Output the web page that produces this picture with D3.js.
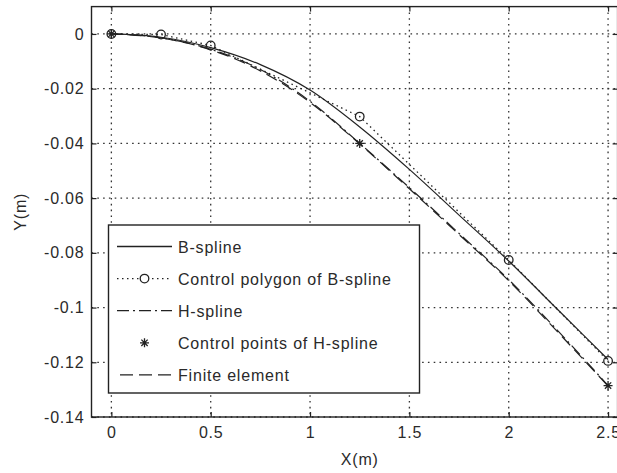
<!DOCTYPE html>
<html><head><meta charset="utf-8">
<script src="https://d3js.org/d3.v7.min.js"></script>
<style>body{margin:0;background:#fff}svg{display:block}text{font-family:"Liberation Sans",Arial,sans-serif;fill:#2a2a2a}</style>
</head><body><svg id="c" width="617" height="473"></svg>
<script>
// ---- data ----
const curveX = [0, 0.25, 0.5, 0.75, 1.0, 1.25, 1.5, 1.75, 2.0, 2.25, 2.5];
const bSpline = [0, -0.0012, -0.0050, -0.0112, -0.0205, -0.0340, -0.0495, -0.0662, -0.0830, -0.1010, -0.1190];
const hSpline = [0, -0.0014, -0.0056, -0.0130, -0.0246, -0.0400, -0.0562, -0.0729, -0.0898, -0.1087, -0.1285];
const finiteElement = [0, -0.0015, -0.0058, -0.0135, -0.0250, -0.0402, -0.0566, -0.0733, -0.0902, -0.1092, -0.1287];
const bCtrlX = [0, 0.25, 0.5, 1.25, 2.0, 2.5];
const bCtrlY = [0, -0.0002, -0.0042, -0.0302, -0.0826, -0.1195];
const hCtrlX = [0, 1.25, 2.5];
const hCtrlY = [0, -0.0400, -0.1285];
const xTicks = [0, 0.5, 1, 1.5, 2, 2.5];
const yTicks = [0, -0.02, -0.04, -0.06, -0.08, -0.1, -0.12, -0.14];
const legendLabels = ["B-spline", "Control polygon of B-spline", "H-spline", "Control points of H-spline", "Finite element"];

// ---- layout ----
const svg = d3.select("#c");
const L = 91.5, R = 617.6, T = 6.6, B = 417;
const x = d3.scaleLinear().domain([-0.1, 2.548]).range([L, R]);
const y = d3.scaleLinear().domain([-0.14, 0.01]).range([B, T]);
const ink = "#222";
const fmt = d => String(+d.toFixed(4));

// grid
const g = svg.append("g");
g.selectAll("line.gx").data(xTicks).join("line")
  .attr("x1", d => x(d)).attr("x2", d => x(d)).attr("y1", T).attr("y2", B)
  .attr("stroke", "#333").attr("stroke-width", 1.3).attr("stroke-dasharray", "1.6,4.2");
g.selectAll("line.gy").data(yTicks).join("line")
  .attr("y1", d => y(d)).attr("y2", d => y(d)).attr("x1", L).attr("x2", R)
  .attr("stroke", "#333").attr("stroke-width", 1.3).attr("stroke-dasharray", "1.6,4.2");

// axes (MATLAB style, ticks inward on all sides)
const axB = d3.axisBottom(x).tickValues(xTicks).tickSize(-5).tickPadding(10).tickFormat(fmt);
const axT = d3.axisTop(x).tickValues(xTicks).tickSize(-5).tickFormat("");
const axLft = d3.axisLeft(y).tickValues(yTicks).tickSize(-5).tickPadding(7).tickFormat(fmt);
const axRgt = d3.axisRight(y).tickValues(yTicks).tickSize(-5).tickFormat("");
function style(sel){
  sel.select(".domain").remove();
  sel.selectAll(".tick line").attr("stroke", ink).attr("stroke-width", 1.2);
  sel.selectAll(".tick text").attr("font-size", 16).attr("letter-spacing", "0.8px").attr("fill", "#2a2a2a")
     .attr("font-family", '"Liberation Sans",Arial,sans-serif');
}
svg.append("g").attr("transform", `translate(0,${B})`).call(axB).call(style);
svg.append("g").attr("transform", `translate(0,${T})`).call(axT).call(style);
svg.append("g").attr("transform", `translate(${L},0)`).call(axLft).call(style);
svg.append("g").attr("transform", `translate(${R},0)`).call(axRgt).call(style);
svg.append("rect").attr("x", L).attr("y", T).attr("width", R - L).attr("height", B - T)
  .attr("fill", "none").attr("stroke", ink).attr("stroke-width", 1.4);

// axis labels
svg.append("text").attr("x", (L + 628) / 2).attr("y", 465).attr("text-anchor", "middle")
  .attr("font-size", 16).attr("letter-spacing", "0.8px").text("X(m)");
svg.append("text").attr("transform", `translate(26,${(T + B) / 2}) rotate(-90)`).attr("text-anchor", "middle")
  .attr("font-size", 16).attr("letter-spacing", "0.8px").text("Y(m)");

// series
const line = d3.line().x(d => x(d[0])).y(d => y(d[1])).curve(d3.curveMonotoneX);
const lineStraight = d3.line().x(d => x(d[0])).y(d => y(d[1]));
const plot = svg.append("g");
plot.append("path").attr("d", line(d3.zip(curveX, finiteElement)))
  .attr("fill", "none").attr("stroke", ink).attr("stroke-width", 1.2).attr("stroke-dasharray", "12,6");
plot.append("path").attr("d", line(d3.zip(curveX, hSpline)))
  .attr("fill", "none").attr("stroke", ink).attr("stroke-width", 1.2).attr("stroke-dasharray", "12,4,2,4");
plot.append("path").attr("d", lineStraight(d3.zip(bCtrlX, bCtrlY)))
  .attr("fill", "none").attr("stroke", ink).attr("stroke-width", 1.3).attr("stroke-dasharray", "1.5,3.5");
plot.append("path").attr("d", line(d3.zip(curveX, bSpline)))
  .attr("fill", "none").attr("stroke", ink).attr("stroke-width", 1.2);

function star(sel, s){
  sel.append("path").attr("d", `M${-s},0H${s}M0,${-s}V${s}M${-s*0.7},${-s*0.7}L${s*0.7},${s*0.7}M${-s*0.7},${s*0.7}L${s*0.7},${-s*0.7}`)
    .attr("stroke", ink).attr("stroke-width", 1.3).attr("fill", "none");
}
plot.selectAll("circle.cp").data(d3.zip(bCtrlX, bCtrlY)).join("circle")
  .attr("cx", d => x(d[0])).attr("cy", d => y(d[1])).attr("r", 4.3)
  .attr("fill", "none").attr("stroke", ink).attr("stroke-width", 1.3);
d3.zip(hCtrlX, hCtrlY).forEach(d => {
  star(plot.append("g").attr("transform", `translate(${x(d[0])},${y(d[1])})`), 4.5);
});

// legend
const lg = svg.append("g");
lg.append("rect").attr("x", 108.5).attr("y", 225).attr("width", 311).attr("height", 168)
  .attr("fill", "#fff").attr("stroke", ink).attr("stroke-width", 1.4);
const rowY = i => 246.5 + i * 32.1;
const x0 = 117, x1 = 172;
lg.append("line").attr("x1", x0).attr("x2", x1).attr("y1", rowY(0)).attr("y2", rowY(0)).attr("stroke", ink).attr("stroke-width", 1.3);
lg.append("line").attr("x1", x0).attr("x2", x1).attr("y1", rowY(1)).attr("y2", rowY(1)).attr("stroke", ink).attr("stroke-width", 1.3).attr("stroke-dasharray", "1.5,3.5");
lg.append("circle").attr("cx", (x0 + x1) / 2).attr("cy", rowY(1)).attr("r", 4.3).attr("fill", "#fff").attr("stroke", ink).attr("stroke-width", 1.3);
lg.append("line").attr("x1", x0).attr("x2", x1).attr("y1", rowY(2)).attr("y2", rowY(2)).attr("stroke", ink).attr("stroke-width", 1.3).attr("stroke-dasharray", "12,4,2,4");
star(lg.append("g").attr("transform", `translate(${(x0 + x1) / 2},${rowY(3)})`), 4.5);
lg.append("line").attr("x1", x0 + 3).attr("x2", x1).attr("y1", rowY(4)).attr("y2", rowY(4)).attr("stroke", ink).attr("stroke-width", 1.3).attr("stroke-dasharray", "13,6");
lg.selectAll("text.lt").data(legendLabels).join("text")
  .attr("x", 178).attr("y", (d, i) => rowY(i) + 6).attr("font-size", 16).attr("letter-spacing", "0.8px").text(d => d);
</script></body></html>
